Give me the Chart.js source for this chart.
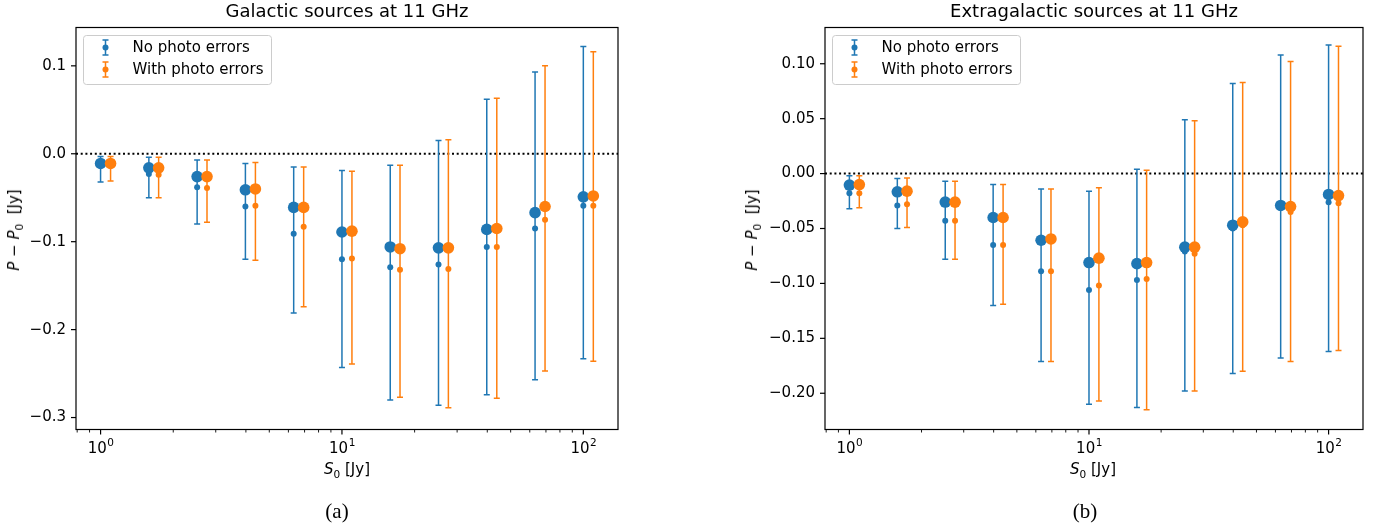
<!DOCTYPE html>
<html>
<head>
<meta charset="utf-8">
<script src="https://cdn.jsdelivr.net/npm/chart.js@4.4.1/dist/chart.umd.min.js"></script>
<style>
  body { margin: 0; background: #fff; width: 1379px; height: 527px; position: relative; overflow: hidden; font-family: "DejaVu Sans", sans-serif; }
  canvas { position: absolute; top: 0; }
  #galChart { left: 0; }
  #exgalChart { left: 690px; }
  .lbl { position: absolute; transform: translate(-50%, -50%); font-size: 15px; white-space: nowrap; color: #000; }
  .ylbl { transform: translate(-50%, -50%) rotate(-90deg); }
  .sub { font-size: 10.5px; position: relative; top: 4px; font-style: normal; }
  .cap { font-family: "Liberation Serif", serif; font-size: 21px; }
</style>
</head>
<body>
<canvas id="galChart" width="690" height="492"></canvas>
<canvas id="exgalChart" width="689" height="492"></canvas>

<div class="lbl" style="left:347px;top:469px"><i>S</i><span class="sub">0</span> [Jy]</div>
<div class="lbl" style="left:1093px;top:469px"><i>S</i><span class="sub">0</span> [Jy]</div>
<div class="lbl ylbl" style="left:14px;top:230px"><i>P</i> − <i>P</i><span class="sub">0</span>&nbsp; [Jy]</div>
<div class="lbl ylbl" style="left:752px;top:230px"><i>P</i> − <i>P</i><span class="sub">0</span>&nbsp; [Jy]</div>
<div class="lbl cap" style="left:337px;top:511px">(a)</div>
<div class="lbl cap" style="left:1085px;top:511px">(b)</div>

<script>
// Flux bins (Jy); the "with photo errors" series is drawn slightly to the right
const fluxBins = [1.0, 1.585, 2.512, 3.981, 6.31, 10.0, 15.85, 25.12, 39.81, 63.1, 100.0];
const fluxBinsShifted = [1.1, 1.74, 2.76, 4.38, 6.94, 11.0, 17.4, 27.6, 43.8, 69.4, 110.0];

const seriesLabels = ['No photo errors', 'With photo errors'];
const panelTitles = ['Galactic sources at 11 GHz', 'Extragalactic sources at 11 GHz'];

const xMajorTicks = [1, 10, 100];
const xTickExponents = ['0', '1', '2'];
const galYTicks = [-0.3, -0.2, -0.1, 0.0, 0.1];
const exgalYTicks = [-0.20, -0.15, -0.10, -0.05, 0.00, 0.05, 0.10];

// Galactic, no photo errors
const galNoMean   = [-0.011, -0.016, -0.026, -0.041, -0.061, -0.089, -0.106, -0.107, -0.086, -0.067, -0.049];
const galNoMedian = [-0.012, -0.023, -0.038, -0.060, -0.091, -0.120, -0.129, -0.126, -0.106, -0.085, -0.059];
const galNoLow    = [-0.032, -0.050, -0.080, -0.120, -0.181, -0.243, -0.280, -0.286, -0.274, -0.257, -0.233];
const galNoHigh   = [-0.003, -0.004, -0.007, -0.011, -0.015, -0.019, -0.013, 0.015, 0.062, 0.093, 0.122];

// Galactic, with photo errors
const galWithMean   = [-0.011, -0.016, -0.026, -0.040, -0.061, -0.088, -0.108, -0.107, -0.085, -0.060, -0.048];
const galWithMedian = [-0.012, -0.024, -0.039, -0.059, -0.083, -0.119, -0.132, -0.131, -0.106, -0.075, -0.059];
const galWithLow    = [-0.031, -0.050, -0.078, -0.121, -0.174, -0.239, -0.277, -0.289, -0.278, -0.247, -0.236];
const galWithHigh   = [-0.003, -0.004, -0.007, -0.010, -0.015, -0.020, -0.013, 0.016, 0.063, 0.100, 0.116];

// Extragalactic, no photo errors
const exgalNoMean   = [-0.0105, -0.0166, -0.0259, -0.040, -0.0607, -0.081, -0.082, -0.067, -0.047, -0.029, -0.019];
const exgalNoMedian = [-0.018, -0.029, -0.043, -0.065, -0.089, -0.106, -0.097, -0.071, -0.050, -0.031, -0.026];
const exgalNoLow    = [-0.032, -0.050, -0.078, -0.120, -0.171, -0.210, -0.213, -0.198, -0.182, -0.168, -0.162];
const exgalNoHigh   = [-0.002, -0.0045, -0.007, -0.010, -0.014, -0.016, 0.004, 0.049, 0.082, 0.108, 0.117];

// Extragalactic, with photo errors
const exgalWithMean   = [-0.010, -0.016, -0.026, -0.040, -0.0595, -0.077, -0.081, -0.067, -0.044, -0.030, -0.020];
const exgalWithMedian = [-0.018, -0.028, -0.043, -0.065, -0.089, -0.102, -0.096, -0.073, -0.047, -0.035, -0.027];
const exgalWithLow    = [-0.031, -0.049, -0.078, -0.119, -0.171, -0.207, -0.215, -0.198, -0.180, -0.171, -0.161];
const exgalWithHigh   = [-0.002, -0.004, -0.007, -0.010, -0.014, -0.013, 0.003, 0.048, 0.083, 0.102, 0.116];

const BLUE = '#1f77b4';
const ORANGE = '#ff7f0e';
const FONT = 'DejaVu Sans';

function toPoints(xs, ys) {
  return xs.map(function (x, i) { return { x: x, y: ys[i] }; });
}

// zero line, error bars, frame, tick marks, 10^n labels and legend box
function panelDecor(series) {
  return {
    id: 'panelDecor',
    beforeDatasetsDraw(chart) {
      const ctx = chart.ctx, a = chart.chartArea, x = chart.scales.x, y = chart.scales.y;
      ctx.save();
      ctx.beginPath();
      ctx.rect(a.left, a.top, a.width, a.height);
      ctx.clip();

      const y0 = y.getPixelForValue(0);
      ctx.strokeStyle = '#000';
      ctx.lineWidth = 2;
      ctx.setLineDash([2, 2.7]);
      ctx.beginPath();
      ctx.moveTo(a.left, y0);
      ctx.lineTo(a.right, y0);
      ctx.stroke();
      ctx.setLineDash([]);

      series.forEach(function (s) {
        ctx.strokeStyle = s.color;
        ctx.lineWidth = 1.5;
        s.x.forEach(function (xv, i) {
          const px = x.getPixelForValue(xv);
          const top = y.getPixelForValue(s.high[i]);
          const bot = y.getPixelForValue(s.low[i]);
          ctx.beginPath();
          ctx.moveTo(px, top); ctx.lineTo(px, bot);
          ctx.moveTo(px - 3, top); ctx.lineTo(px + 3, top);
          ctx.moveTo(px - 3, bot); ctx.lineTo(px + 3, bot);
          ctx.stroke();
        });
      });
      ctx.restore();
    },
    afterDatasetsDraw(chart) {
      const ctx = chart.ctx, a = chart.chartArea, x = chart.scales.x, y = chart.scales.y;
      ctx.save();
      ctx.strokeStyle = '#000';
      ctx.lineWidth = 1.2;
      ctx.strokeRect(a.left, a.top, a.width, a.height);

      // tick marks, outward
      y.ticks.forEach(function (t) {
        const py = y.getPixelForValue(t.value);
        ctx.beginPath();
        ctx.moveTo(a.left - 5, py); ctx.lineTo(a.left, py);
        ctx.stroke();
      });
      x.ticks.forEach(function (t) {
        const px = x.getPixelForValue(t.value);
        const major = xMajorTicks.indexOf(t.value) >= 0;
        ctx.lineWidth = major ? 1.2 : 0.9;
        ctx.beginPath();
        ctx.moveTo(px, a.bottom); ctx.lineTo(px, a.bottom + (major ? 5 : 3));
        ctx.stroke();
      });

      // decade labels with raised exponent
      ctx.fillStyle = '#000';
      ctx.textBaseline = 'alphabetic';
      ctx.textAlign = 'left';
      xMajorTicks.forEach(function (m, i) {
        const px = x.getPixelForValue(m);
        ctx.font = '15px "' + FONT + '"';
        const wb = ctx.measureText('10').width;
        ctx.font = '10.5px "' + FONT + '"';
        const we = ctx.measureText(xTickExponents[i]).width;
        const x0 = px - (wb + we) / 2;
        ctx.font = '15px "' + FONT + '"';
        ctx.fillText('10', x0, a.bottom + 23.5);
        ctx.font = '10.5px "' + FONT + '"';
        ctx.fillText(xTickExponents[i], x0 + wb + 0.5, a.bottom + 16);
      });

      // legend
      const lx = a.left + 7.5, ly = a.top + 8, w = 188, h = 49;
      ctx.beginPath();
      ctx.roundRect(lx, ly, w, h, 3);
      ctx.fillStyle = 'rgba(255,255,255,0.8)';
      ctx.fill();
      ctx.strokeStyle = '#cccccc';
      ctx.lineWidth = 1;
      ctx.stroke();
      ctx.font = '15px "' + FONT + '"';
      ctx.textBaseline = 'middle';
      ctx.textAlign = 'left';
      series.forEach(function (s, i) {
        const cx = lx + 22, cy = ly + 12 + i * 22;
        ctx.strokeStyle = s.color;
        ctx.lineWidth = 1.5;
        ctx.beginPath();
        ctx.moveTo(cx, cy - 7.5); ctx.lineTo(cx, cy + 7.5);
        ctx.moveTo(cx - 3, cy - 7.5); ctx.lineTo(cx + 3, cy - 7.5);
        ctx.moveTo(cx - 3, cy + 7.5); ctx.lineTo(cx + 3, cy + 7.5);
        ctx.stroke();
        ctx.fillStyle = s.color;
        ctx.beginPath();
        ctx.arc(cx, cy, 3, 0, Math.PI * 2);
        ctx.fill();
        ctx.fillStyle = '#000';
        ctx.fillText(s.label, lx + 49, cy + 1);
      });
      ctx.restore();
    }
  };
}

function buildPanel(canvasId, p) {
  const series = [
    { label: seriesLabels[0], color: BLUE, x: fluxBins, low: p.noLow, high: p.noHigh },
    { label: seriesLabels[1], color: ORANGE, x: fluxBinsShifted, low: p.withLow, high: p.withHigh }
  ];
  const dot = function (data, color, r) {
    return { data: data, backgroundColor: color, pointRadius: r, pointBorderWidth: 0, pointHoverRadius: r, showLine: false };
  };
  const tickFont = { family: FONT, size: 15 };

  new Chart(document.getElementById(canvasId), {
    type: 'scatter',
    data: {
      datasets: [
        dot(toPoints(fluxBinsShifted, p.withMean), ORANGE, 5.8),
        dot(toPoints(fluxBinsShifted, p.withMedian), ORANGE, 3),
        dot(toPoints(fluxBins, p.noMean), BLUE, 5.8),
        dot(toPoints(fluxBins, p.noMedian), BLUE, 3)
      ]
    },
    options: {
      responsive: false,
      animation: false,
      events: [],
      layout: { padding: { left: 0, right: p.padRight, top: 0, bottom: 0 } },
      plugins: {
        legend: { display: false },
        tooltip: { enabled: false },
        title: {
          display: true, text: p.title, fullSize: false, color: '#000',
          font: { family: FONT, size: 18, weight: 'normal', lineHeight: 1.2 },
          padding: { top: 2, bottom: 3.9 }
        }
      },
      scales: {
        x: {
          type: 'logarithmic', min: 0.791, max: 139.2,
          grid: { display: false, drawTicks: false },
          border: { display: false },
          afterBuildTicks: function (s) {
            const ticks = [0.8, 0.9];
            xMajorTicks.forEach(function (m) {
              for (let k = 1; k <= 9; k++) {
                const v = m * k;
                if (v <= s.max) ticks.push(v);
              }
            });
            s.ticks = ticks.map(function (v) { return { value: v }; });
          },
          afterFit: function (s) { s.height = 62.5; },
          ticks: {
            autoSkip: false, maxRotation: 0, minRotation: 0, padding: 8, color: '#000', font: tickFont,
            callback: function () { return ''; }
          }
        },
        y: {
          min: p.yMin, max: p.yMax,
          grid: { display: false, drawTicks: false },
          border: { display: false },
          afterBuildTicks: function (s) {
            s.ticks = p.yTicks.map(function (v) { return { value: v }; });
          },
          afterFit: function (s) { s.width = p.axisWidth; },
          ticks: {
            padding: 10, color: '#000', font: tickFont,
            callback: function (v) {
              return v.toFixed(p.decimals).replace('-', '\u2212');
            }
          }
        }
      }
    },
    plugins: [panelDecor(series)]
  });
}

buildPanel('galChart', {
  title: panelTitles[0], yMin: -0.3136, yMax: 0.1436, yTicks: galYTicks, decimals: 1,
  axisWidth: 76, padRight: 72,
  noMean: galNoMean, noMedian: galNoMedian, noLow: galNoLow, noHigh: galNoHigh,
  withMean: galWithMean, withMedian: galWithMedian, withLow: galWithLow, withHigh: galWithHigh
});

buildPanel('exgalChart', {
  title: panelTitles[1], yMin: -0.233, yMax: 0.133, yTicks: exgalYTicks, decimals: 2,
  axisWidth: 135, padRight: 16,
  noMean: exgalNoMean, noMedian: exgalNoMedian, noLow: exgalNoLow, noHigh: exgalNoHigh,
  withMean: exgalWithMean, withMedian: exgalWithMedian, withLow: exgalWithLow, withHigh: exgalWithHigh
});
</script>
</body>
</html>
